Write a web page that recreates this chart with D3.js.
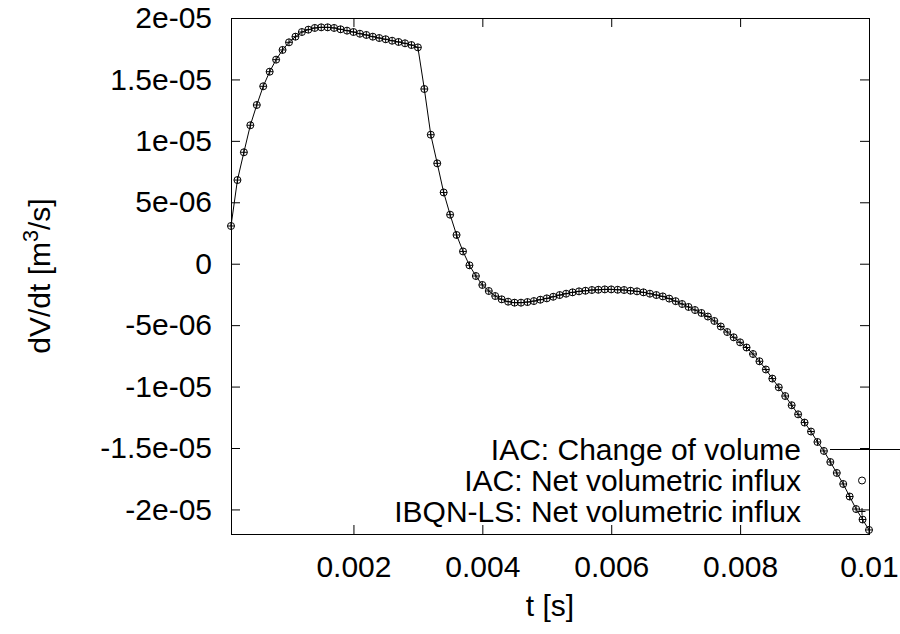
<!DOCTYPE html>
<html lang="en">
<head>
<meta charset="utf-8">
<title>dV/dt over time</title>
<script src="https://d3js.org/d3.v7.min.js"></script>
<style>
  body { margin: 0; background: #fff; }
  svg text { font-family: "Liberation Sans", Arial, sans-serif; }
</style>
</head>
<body>
<script>
// sample times [s]
var times = [
  0.0001, 0.0002, 0.0003, 0.0004, 0.0005, 0.0006, 0.0007, 0.0008, 0.0009, 0.0010,
  0.0011, 0.0012, 0.0013, 0.0014, 0.0015, 0.0016, 0.0017, 0.0018, 0.0019, 0.0020,
  0.0021, 0.0022, 0.0023, 0.0024, 0.0025, 0.0026, 0.0027, 0.0028, 0.0029, 0.0030,
  0.0031, 0.0032, 0.0033, 0.0034, 0.0035, 0.0036, 0.0037, 0.0038, 0.0039, 0.0040,
  0.0041, 0.0042, 0.0043, 0.0044, 0.0045, 0.0046, 0.0047, 0.0048, 0.0049, 0.0050,
  0.0051, 0.0052, 0.0053, 0.0054, 0.0055, 0.0056, 0.0057, 0.0058, 0.0059, 0.0060,
  0.0061, 0.0062, 0.0063, 0.0064, 0.0065, 0.0066, 0.0067, 0.0068, 0.0069, 0.0070,
  0.0071, 0.0072, 0.0073, 0.0074, 0.0075, 0.0076, 0.0077, 0.0078, 0.0079, 0.0080,
  0.0081, 0.0082, 0.0083, 0.0084, 0.0085, 0.0086, 0.0087, 0.0088, 0.0089, 0.0090,
  0.0091, 0.0092, 0.0093, 0.0094, 0.0095, 0.0096, 0.0097, 0.0098, 0.0099, 0.0100
];

// dV/dt [m^3/s] - the three series lie on top of each other in the picture
var changeOfVolume = [
  3.07e-6, 6.81e-6, 9.07e-6, 1.127e-5, 1.292e-5, 1.444e-5, 1.563e-5, 1.661e-5, 1.740e-5, 1.802e-5,
  1.848e-5, 1.886e-5, 1.905e-5, 1.919e-5, 1.924e-5, 1.924e-5, 1.919e-5, 1.908e-5, 1.897e-5, 1.886e-5,
  1.872e-5, 1.862e-5, 1.848e-5, 1.837e-5, 1.827e-5, 1.815e-5, 1.805e-5, 1.794e-5, 1.780e-5, 1.761e-5,
  1.422e-5, 1.050e-5, 8.17e-6, 5.80e-6, 3.99e-6, 2.34e-6, 1.00e-6, -1.3e-7, -1.00e-6, -1.73e-6,
  -2.22e-6, -2.63e-6, -2.90e-6, -3.09e-6, -3.17e-6, -3.17e-6, -3.12e-6, -3.04e-6, -2.93e-6, -2.82e-6,
  -2.69e-6, -2.55e-6, -2.44e-6, -2.33e-6, -2.25e-6, -2.20e-6, -2.14e-6, -2.12e-6, -2.09e-6, -2.09e-6,
  -2.12e-6, -2.14e-6, -2.20e-6, -2.25e-6, -2.33e-6, -2.44e-6, -2.55e-6, -2.66e-6, -2.84e-6, -3.05e-6,
  -3.28e-6, -3.52e-6, -3.77e-6, -4.01e-6, -4.30e-6, -4.66e-6, -5.11e-6, -5.56e-6, -5.99e-6, -6.40e-6,
  -6.82e-6, -7.35e-6, -7.94e-6, -8.61e-6, -9.35e-6, -1.006e-5, -1.077e-5, -1.152e-5, -1.226e-5, -1.293e-5,
  -1.366e-5, -1.451e-5, -1.524e-5, -1.614e-5, -1.703e-5, -1.793e-5, -1.895e-5, -1.997e-5, -2.082e-5, -2.167e-5
];
var netInfluxIAC = changeOfVolume.slice();
var netInfluxIBQN = changeOfVolume.slice();

var xTicks = [0.002, 0.004, 0.006, 0.008, 0.01];
var xTickLabels = ["0.002", "0.004", "0.006", "0.008", "0.01"];
var yTicks = [2e-5, 1.5e-5, 1e-5, 5e-6, 0, -5e-6, -1e-5, -1.5e-5, -2e-5];
var yTickLabels = ["2e-05", "1.5e-05", "1e-05", "5e-06", "0", "-5e-06", "-1e-05", "-1.5e-05", "-2e-05"];
var legendLabels = ["IAC: Change of volume", "IAC: Net volumetric influx", "IBQN-LS: Net volumetric influx"];

var width = 900, height = 634;
var plotLeft = 231, plotRight = 869, plotTop = 18, plotBottom = 534;
var fontSize = 30;

var svg = d3.select("body").append("svg")
    .attr("width", width)
    .attr("height", height);

var x = d3.scaleLinear().domain([0.0001, 0.01]).range([plotLeft, plotRight]);
var y = d3.scaleLinear().domain([-2.2e-5, 2e-5]).range([plotBottom, plotTop]);

function styleAxis(g) {
    g.attr("font-size", fontSize).attr("font-family", null);
    g.select(".domain").remove();
    g.selectAll(".tick line").attr("stroke", "#000");
    g.selectAll(".tick text").attr("fill", "#000");
}

svg.append("g")
    .attr("transform", "translate(0," + plotBottom + ")")
    .call(d3.axisBottom(x).tickValues(xTicks)
        .tickFormat(function(d, i) { return xTickLabels[i]; })
        .tickSizeInner(-9).tickSizeOuter(0).tickPadding(22))
    .call(styleAxis);

svg.append("g")
    .attr("transform", "translate(0," + plotTop + ")")
    .call(d3.axisTop(x).tickValues(xTicks).tickFormat("")
        .tickSizeInner(-9).tickSizeOuter(0))
    .call(styleAxis);

svg.append("g")
    .attr("transform", "translate(" + plotLeft + ",0)")
    .call(d3.axisLeft(y).tickValues(yTicks)
        .tickFormat(function(d, i) { return yTickLabels[i]; })
        .tickSizeInner(-9).tickSizeOuter(0).tickPadding(19))
    .call(styleAxis);

svg.append("g")
    .attr("transform", "translate(" + plotRight + ",0)")
    .call(d3.axisRight(y).tickValues(yTicks).tickFormat("")
        .tickSizeInner(-9).tickSizeOuter(0))
    .call(styleAxis);

svg.append("rect")
    .attr("x", plotLeft + 0.5).attr("y", plotTop + 0.5)
    .attr("width", plotRight - plotLeft).attr("height", plotBottom - plotTop)
    .attr("fill", "none").attr("stroke", "#000");

// axis titles
svg.append("text")
    .attr("x", (plotLeft + plotRight) / 2).attr("y", 616)
    .attr("text-anchor", "middle")
    .attr("font-size", fontSize)
    .text("t [s]");

var ylab = svg.append("text")
    .attr("transform", "translate(50," + (plotTop + plotBottom) / 2 + ") rotate(-90)")
    .attr("text-anchor", "middle")
    .attr("font-size", fontSize);
ylab.append("tspan").text("dV/dt [m");
ylab.append("tspan").attr("dy", "-0.55em").attr("font-size", "0.72em").text("3");
ylab.append("tspan").attr("dy", "0.4em").text("/s]");

// series
var line = d3.line()
    .x(function(d, i) { return x(times[i]); })
    .y(function(d) { return y(d); });

svg.append("path")
    .datum(changeOfVolume)
    .attr("d", line)
    .attr("fill", "none")
    .attr("stroke", "#000")
    .attr("stroke-width", 1);

svg.append("g").selectAll("circle")
    .data(netInfluxIAC)
    .enter().append("circle")
    .attr("cx", function(d, i) { return x(times[i]); })
    .attr("cy", function(d) { return y(d); })
    .attr("r", 3.5)
    .attr("fill", "none")
    .attr("stroke", "#000")
    .attr("stroke-width", 1);

var plusPath = "M-3.5,0H3.5M0,-3.5V3.5";
svg.append("g").selectAll("path")
    .data(netInfluxIBQN)
    .enter().append("path")
    .attr("transform", function(d, i) { return "translate(" + x(times[i]) + "," + y(d) + ")"; })
    .attr("d", plusPath)
    .attr("fill", "none")
    .attr("stroke", "#000")
    .attr("stroke-width", 1);

// legend
var legendY = [449.5, 480.5, 511.5];
var legend = svg.append("g");
legend.selectAll("text")
    .data(legendLabels)
    .enter().append("text")
    .attr("x", 801)
    .attr("y", function(d, i) { return legendY[i]; })
    .attr("dy", "0.35em")
    .attr("text-anchor", "end")
    .attr("font-size", fontSize)
    .text(function(d) { return d; });

legend.append("line")
    .attr("x1", 830).attr("x2", 900)
    .attr("y1", legendY[0]).attr("y2", legendY[0])
    .attr("stroke", "#000");
legend.append("circle")
    .attr("cx", 862).attr("cy", legendY[1]).attr("r", 3.5)
    .attr("fill", "none").attr("stroke", "#000");
legend.append("path")
    .attr("transform", "translate(862," + legendY[2] + ")")
    .attr("d", plusPath)
    .attr("fill", "none").attr("stroke", "#000");
</script>
</body>
</html>
